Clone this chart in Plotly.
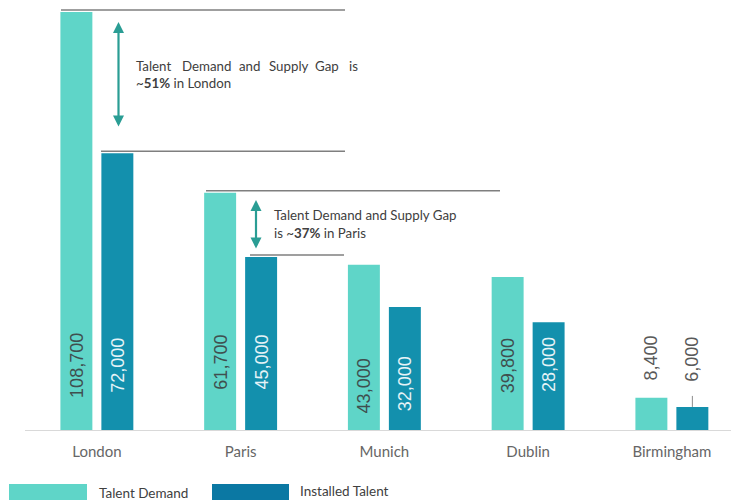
import plotly.graph_objects as go

# ---------------- data ----------------
cities = ["London", "Paris", "Munich", "Dublin", "Birmingham"]
talent_demand = [108700, 61700, 43000, 39800, 8400]
installed_talent = [72000, 45000, 32000, 28000, 6000]
series_names = ["Talent Demand", "Installed Talent"]

# ---------------- style ----------------
W, H = 731, 500
ML, MR, MT, MB = 25, 0, 0, 70
PW, PH = W - ML - MR, H - MT - MB
C_DEMAND = "#5fd5c8"
C_INSTALLED = "#1390ad"
C_LEG_INSTALLED = "#0b78a3"
C_ARROW = "#2a9d94"
C_LINE = "#7f7f7f"
C_TEXT = "#595959"
YMAX = 108700 * 430 / 418
XR = [-0.5, -0.5 + PW / 143.75]
OFF = 0.1425  # half slot offset for grouped bars (layout-derived)


def pxx(x):
    return (x - ML) / PW


def pxy(y):
    return (MT + PH - y) / PH


xs = list(range(len(cities)))
fig = go.Figure()
fig.add_bar(x=xs, y=talent_demand, name=series_names[0], marker_color=C_DEMAND,
            marker_line_width=0, showlegend=False)
fig.add_bar(x=xs, y=installed_talent, name=series_names[1], marker_color=C_INSTALLED,
            marker_line_width=0, showlegend=False)

annotations = []
shapes = []

# value labels
lift_demand = [30, 38, 15, 35]
lift_inst = [35, 38, 17, 36]
for i, (d, s) in enumerate(zip(talent_demand, installed_talent)):
    if i < 4:
        annotations.append(dict(x=i - OFF, y=0, xref="x", yref="y", text=f"{d:,}",
                                textangle=-90, showarrow=False, yanchor="bottom",
                                xanchor="center", yshift=lift_demand[i],
                                font=dict(family="Liberation Sans", size=18, color="#3f4f4f")))
        annotations.append(dict(x=i + OFF, y=0, xref="x", yref="y", text=f"{s:,}",
                                textangle=-90, showarrow=False, yanchor="bottom",
                                xanchor="center", yshift=lift_inst[i],
                                font=dict(family="Liberation Sans", size=18, color="#e6f3f7")))
    else:
        annotations.append(dict(x=i - OFF, y=d, xref="x", yref="y", text=f"{d:,}",
                                textangle=-90, showarrow=False, yanchor="bottom",
                                xanchor="center", yshift=15,
                                font=dict(family="Liberation Sans", size=18, color=C_TEXT)))
        annotations.append(dict(x=i + OFF, y=s, xref="x", yref="y", text=f"{s:,}",
                                textangle=-90, showarrow=False, yanchor="bottom",
                                xanchor="center", yshift=23,
                                font=dict(family="Liberation Sans", size=18, color=C_TEXT)))
        shapes.append(dict(type="line", xref="x", yref="y", ysizemode="pixel",
                           yanchor=s, x0=i + OFF, x1=i + OFF, y0=0, y1=11,
                           line=dict(color="#8c8c8c", width=1)))

# reference lines for gap callouts (sit ~2px above bar tops)
for (x0, x1, val) in [(61, 345, talent_demand[0]), (101, 345, installed_talent[0]),
                      (206, 500, talent_demand[1]), (250, 344, installed_talent[1])]:
    shapes.append(dict(type="line", xref="paper", yref="y", ysizemode="pixel",
                       yanchor=val, x0=pxx(x0), x1=pxx(x1), y0=2, y1=2,
                       line=dict(color=C_LINE, width=1.5)))

# double-headed arrows
for (ax_, top, bot) in [(118.5, 22, 128), (256, 200, 250)]:
    annotations.append(dict(x=pxx(ax_), y=pxy(top), xref="paper", yref="paper",
                            ax=0, ay=bot - top, text="", showarrow=True,
                            arrowside="end+start", arrowhead=2, arrowsize=1,
                            arrowwidth=2.2, arrowcolor=C_ARROW))

# callout texts
FT = dict(family="Lato", size=13.3, color="#404040")
words = ["Talent", "Demand", "and", "Supply", "Gap", "is"]
wx = [134, 180, 237, 267, 313, 347]
for w_, x_ in zip(words, wx):
    annotations.append(dict(x=pxx(x_), y=pxy(66), xref="paper", yref="paper", text=w_,
                            showarrow=False, xanchor="left", yanchor="middle", font=FT))
annotations.append(dict(x=pxx(134), y=pxy(83), xref="paper", yref="paper",
                        text="~<b>51%</b> in London", showarrow=False,
                        xanchor="left", yanchor="middle", font=FT))
annotations.append(dict(x=pxx(272), y=pxy(215), xref="paper", yref="paper",
                        text="Talent Demand and Supply Gap", showarrow=False,
                        xanchor="left", yanchor="middle", font=FT))
annotations.append(dict(x=pxx(272), y=pxy(233), xref="paper", yref="paper",
                        text="is ~<b>37%</b> in Paris", showarrow=False,
                        xanchor="left", yanchor="middle", font=FT))

# custom legend
shapes += [
    dict(type="rect", xref="paper", yref="paper", x0=pxx(9), x1=pxx(87),
         y0=pxy(502), y1=pxy(484), fillcolor=C_DEMAND, line_width=0),
    dict(type="rect", xref="paper", yref="paper", x0=pxx(212), x1=pxx(289),
         y0=pxy(502), y1=pxy(484), fillcolor=C_LEG_INSTALLED, line_width=0),
]
FL = dict(family="Lato", size=13.5, color="#404040")
annotations.append(dict(x=pxx(97), y=pxy(493), xref="paper", yref="paper",
                        text=series_names[0], showarrow=False, xanchor="left",
                        yanchor="middle", font=FL))
annotations.append(dict(x=pxx(298), y=pxy(491), xref="paper", yref="paper",
                        text=series_names[1], showarrow=False, xanchor="left",
                        yanchor="middle", font=FL))

fig.update_layout(
    width=W, height=H,
    margin=dict(l=ML, r=MR, t=MT, b=MB),
    paper_bgcolor="white", plot_bgcolor="white",
    barmode="group", bargap=0.43, bargroupgap=0.22,
    showlegend=False,
    annotations=annotations, shapes=shapes,
    xaxis=dict(range=XR, tickvals=xs, ticktext=cities, showline=True,
               linecolor="#d9d9d9", linewidth=1, showgrid=False, zeroline=False,
               ticks="", ticklabelstandoff=8,
               tickfont=dict(family="Lato", size=15, color="#666666")),
    yaxis=dict(range=[0, YMAX], visible=False, showgrid=False, zeroline=False),
)

fig.write_html("out.html")
